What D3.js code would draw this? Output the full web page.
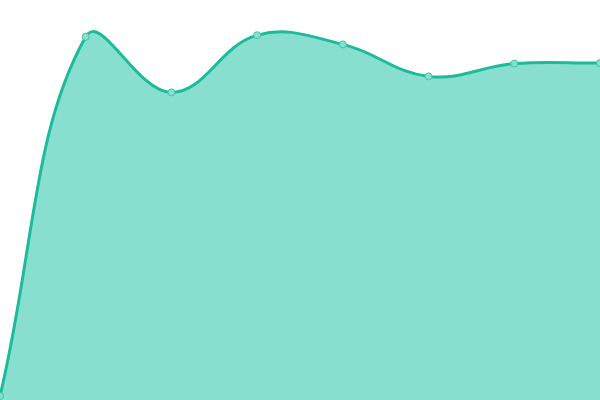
<!DOCTYPE html>
<html>
<head>
<meta charset="utf-8">
<script src="https://cdn.jsdelivr.net/npm/d3@7"></script>
<style>
  html, body { margin: 0; padding: 0; background: #fff; }
  svg { display: block; }
</style>
</head>
<body>
<svg id="chart"></svg>
<script>
// data
const categories = ["1", "2", "3", "4", "5", "6", "7", "8"];
const values = [1, 90.8, 76.9, 91.2, 88.9, 80.9, 84.1, 84.25];

const width = 600;
const height = 400;

const svg = d3.select("#chart").attr("width", width).attr("height", height);

const x = d3.scalePoint().domain(categories).range([0, width]);
const y = d3.scaleLinear().domain([0, 100]).range([height, 0]);

// spline: control points along (next - prev), split by segment length
function SplineCurve(context, tension) {
    this._context = context;
    this._t = tension;
}
SplineCurve.prototype = {
    areaStart() { this._line = 0; },
    areaEnd() { this._line = NaN; },
    lineStart() { this._pts = []; },
    point(px, py) { this._pts.push([+px, +py]); },
    lineEnd() {
        const p = this._pts, n = p.length, c = this._context, t = this._t;
        if (n) {
            this._line ? c.lineTo(p[0][0], p[0][1]) : c.moveTo(p[0][0], p[0][1]);
            const cps = p.map((pt, i) => {
                const prev = p[Math.max(i - 1, 0)], next = p[Math.min(i + 1, n - 1)];
                const d01 = Math.hypot(pt[0] - prev[0], pt[1] - prev[1]);
                const d12 = Math.hypot(next[0] - pt[0], next[1] - pt[1]);
                const sum = d01 + d12 || 1;
                const fa = t * d01 / sum, fb = t * d12 / sum;
                const vx = next[0] - prev[0], vy = next[1] - prev[1];
                return [[pt[0] - fa * vx, pt[1] - fa * vy], [pt[0] + fb * vx, pt[1] + fb * vy]];
            });
            for (let i = 1; i < n; i++) {
                const a = cps[i - 1][1], b = cps[i][0];
                c.bezierCurveTo(a[0], a[1], b[0], b[1], p[i][0], p[i][1]);
            }
        }
        if (this._line || (this._line !== 0 && n === 1)) c.closePath();
        this._line = 1 - this._line;
    }
};
const curve = context => new SplineCurve(context, 0.4);

const area = d3.area()
    .x((d, i) => x(categories[i]))
    .y0(y(0))
    .y1(d => y(d))
    .curve(curve);

const line = d3.line()
    .x((d, i) => x(categories[i]))
    .y(d => y(d))
    .curve(curve);

svg.append("path")
    .datum(values)
    .attr("fill", "#89dfcf")
    .attr("d", area);

svg.append("path")
    .datum(values)
    .attr("fill", "none")
    .attr("stroke", "#1bbc9b")
    .attr("stroke-width", 3)
    .attr("d", line);

svg.selectAll("circle")
    .data(values)
    .enter()
    .append("circle")
    .attr("cx", (d, i) => x(categories[i]))
    .attr("cy", d => y(d))
    .attr("r", 3.5)
    .attr("fill", "#89dfcf")
    .attr("stroke", "#3cc8aa")
    .attr("stroke-width", 1);
</script>
</body>
</html>
